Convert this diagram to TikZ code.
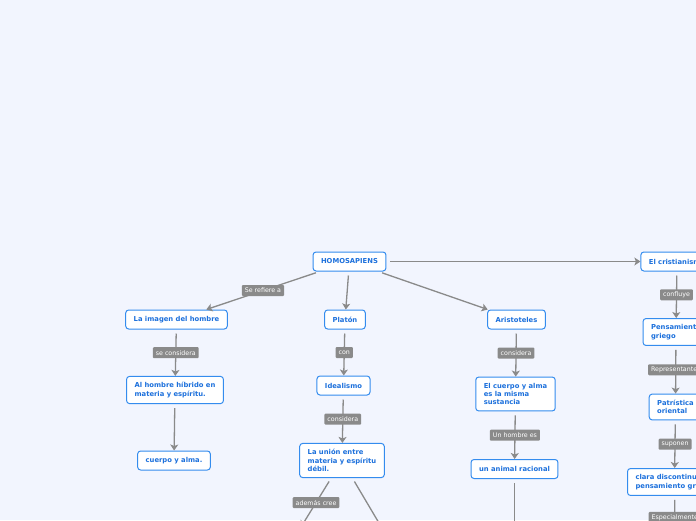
\documentclass[tikz,border=0pt]{standalone}
\usepackage{fontspec}
\setmainfont{DejaVu Sans}
\usetikzlibrary{arrows.meta}
\definecolor{bgblue}{RGB}{242,245,254}
\definecolor{topicline}{RGB}{52,140,238}
\definecolor{topictext}{RGB}{28,112,220}
\definecolor{linkgray}{RGB}{138,138,138}
\tikzset{
 topic/.style={draw=topicline,fill=white,line width=1pt,rounded corners=3pt,text=topictext,font=\fontsize{6.8}{8.3}\selectfont\bfseries,inner xsep=8pt,inner ysep=6pt,minimum height=19pt,align=left},
 link/.style={draw=linkgray,line width=1.3pt,shorten <=4pt,-{Stealth[length=6pt,width=8pt,inset=1.5pt]}},
 linklabel/.style={fill=linkgray,text=white,font=\fontsize{6.3}{7}\selectfont,inner xsep=3pt,inner ysep=0pt,minimum height=11pt,rounded corners=1pt}
}
\begin{document}
\begin{tikzpicture}[x=1pt,y=-1pt]
\path[use as bounding box] (0,0) rectangle (696,520);
\fill[bgblue] (0,0) rectangle (696,520);
\clip (0,0) rectangle (696,520);
% topics
\node[topic] (homo) at (349.5,261.5) {HOMOSAPIENS};
\node[topic] (imagen) at (176.5,319.5) {La imagen del hombre};
\node[topic] (platon) at (345,319.5) {Platón};
\node[topic] (aristo) at (516.5,319.5) {Aristoteles};
\node[topic] (cristiano) at (677,261.5) {El cristianismo};
\node[topic] (hibrido) at (175,390) {Al hombre híbrido en\\materia y espíritu.};
\node[topic] (cuerpo) at (174,460.5) {cuerpo y alma.};
\node[topic] (idealismo) at (343.5,385.5) {Idealismo};
\node[topic] (union) at (342,460.5) {La unión entre\\materia y espíritu\\débil.};
\node[topic] (sustancia) at (515.5,394) {El cuerpo y alma\\es la misma\\sustancia};
\node[topic] (animal) at (514.5,469) {un animal racional};
\node[topic] (griego) at (676,332) {Pensamiento\\griego};
\node[topic] (patristica) at (675.5,407) {Patrística\\oriental};
\node[topic] (clara) at (674.5,482) {clara discontinuidad\\pensamiento griego};
% free ends below the frame
\coordinate (uniona) at (301,527);
\coordinate (unionb) at (392,545);
\coordinate (animalb) at (514.5,545);
\coordinate (clarab) at (675,539);
% links
\draw[link] (homo) -- node[linklabel]{Se refiere a} (imagen);
\draw[link] (homo) -- (platon);
\draw[link] (homo) -- (aristo);
\draw[link] (homo) -- (cristiano);
\draw[link] (imagen) -- node[linklabel]{se considera} (hibrido);
\draw[link] (hibrido) -- (cuerpo);
\draw[link] (platon) -- node[linklabel]{con} (idealismo);
\draw[link] (idealismo) -- node[linklabel]{considera} (union);
\draw[link] (union) -- node[linklabel]{además cree} (uniona);
\draw[link] (union) -- (unionb);
\draw[link] (aristo) -- node[linklabel]{considera} (sustancia);
\draw[link] (sustancia) -- node[linklabel]{Un hombre es} (animal);
\draw[link] (animal) -- (animalb);
\draw[link] (cristiano) -- node[linklabel]{confluye} (griego);
\draw[link] (griego) -- node[linklabel]{Representantes} (patristica);
\draw[link] (patristica) -- node[linklabel]{suponen} (clara);
\draw[link] (clara) -- node[linklabel]{Especialmente} (clarab);
\end{tikzpicture}
\end{document}
